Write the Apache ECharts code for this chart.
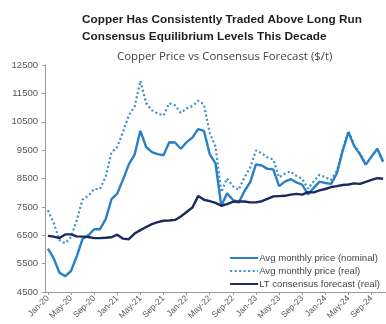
<!DOCTYPE html>
<html>
<head>
<meta charset="utf-8">
<script src="https://cdn.jsdelivr.net/npm/echarts@6/dist/echarts.min.js"></script>
<style>
  html, body { margin: 0; padding: 0; background: #fff; }
  #chart { width: 386px; height: 324px; }
</style>
</head>
<body>
<div id="chart"></div>
<script>
// Monthly categories, Jan-20 .. Nov-24
const monthNames = ['Jan', 'Feb', 'Mar', 'Apr', 'May', 'Jun', 'Jul', 'Aug', 'Sep', 'Oct', 'Nov', 'Dec'];
const years = ['20', '21', '22', '23', '24'];
const categories = [];
years.forEach(function (y) {
  monthNames.forEach(function (m) { categories.push(m + '-' + y); });
});
categories.length = 59;

// Average monthly copper price, nominal ($/t)
const nominalPrice = [
  6030, 5690, 5180, 5060, 5240, 5760, 6370, 6500, 6710, 6710, 7070, 7770,
  7970, 8460, 9000, 9340, 10180, 9610, 9430, 9360, 9320, 9780, 9770, 9550,
  9780, 9940, 10240, 10180, 9360, 9030, 7530, 7980, 7750, 7650, 8050, 8370,
  9000, 8960, 8840, 8820, 8230, 8390, 8480, 8360, 8280, 7940, 8170, 8390,
  8340, 8310, 8680, 9470, 10130, 9640, 9350, 8990, 9270, 9550, 9090
];

// Average monthly copper price, real ($/t)
const realPrice = [
  7380, 6940, 6330, 6220, 6440, 7040, 7760, 7890, 8130, 8130, 8570, 9410,
  9610, 10150, 10730, 11030, 11940, 11160, 10900, 10790, 10720, 11150, 11080, 10810,
  10970, 11050, 11240, 11110, 10110, 9620, 8020, 8500, 8230, 8100, 8530, 8890,
  9490, 9390, 9240, 9170, 8540, 8670, 8750, 8590, 8490, 8140, 8400, 8630,
  8540, 8450, 8770, 9520, 10180, 9680, 9380, 9010, 9280, 9550, 9090
];

// Long-term consensus forecast, real ($/t)
const ltConsensus = [
  6480, 6450, 6400, 6530, 6530, 6460, 6450, 6440, 6400, 6400, 6410, 6430,
  6520, 6380, 6360, 6560, 6680, 6790, 6890, 6960, 7010, 7020, 7040, 7160,
  7320, 7480, 7880, 7750, 7700, 7640, 7540, 7600, 7680, 7690, 7690, 7660,
  7660, 7700, 7780, 7870, 7880, 7890, 7930, 7960, 7930, 8020, 8010, 8080,
  8130, 8200, 8230, 8270, 8290, 8330, 8310, 8380, 8450, 8510, 8490
];

const seriesNames = [
  'Avg monthly price (nominal)',
  'Avg monthly price (real)',
  'LT consensus forecast (real)'
];

const chart = echarts.init(document.getElementById('chart'), null, { renderer: 'canvas' });

const axisGrey = '#9a9a9a';
const labelGrey = '#555';

chart.setOption({
  animation: false,
  backgroundColor: '#ffffff',
  title: [
    {
      text: 'Copper Has Consistently Traded Above Long Run\nConsensus Equilibrium Levels This Decade',
      left: 77,
      top: 6,
      textStyle: {
        fontFamily: 'Liberation Sans, sans-serif',
        fontSize: 11.8,
        fontWeight: 'bold',
        color: '#1e1e1e',
        lineHeight: 17
      }
    },
    {
      text: 'Copper Price vs Consensus Forecast ($/t)',
      left: 112,
      top: 46,
      textStyle: {
        fontFamily: 'Open Sans, sans-serif',
        fontSize: 11.4,
        fontWeight: 'normal',
        color: '#444'
      }
    }
  ],
  legend: {
    orient: 'vertical',
    right: 1,
    top: 248,
    itemWidth: 28,
    itemHeight: 8,
    itemGap: 3,
    itemStyle: { opacity: 0, borderWidth: 0 },
    textStyle: {
      fontFamily: 'Liberation Sans Narrow, sans-serif',
      fontSize: 9.6,
      color: '#444',
      padding: [0, 0, 0, -4]
    },
    data: seriesNames
  },
  grid: {
    left: 45,
    right: -3,
    top: 65,
    bottom: 32,
    containLabel: false
  },
  xAxis: {
    type: 'category',
    data: categories,
    boundaryGap: true,
    axisLine: { show: true, lineStyle: { color: axisGrey, width: 1 } },
    axisTick: { show: true, interval: 3, alignWithLabel: true, length: 3, lineStyle: { color: axisGrey } },
    axisLabel: {
      interval: 3,
      rotate: 45,
      margin: 5,
      fontFamily: 'Liberation Sans Narrow, sans-serif',
      fontSize: 8.5,
      color: labelGrey
    },
    splitLine: { show: false }
  },
  yAxis: {
    type: 'value',
    min: 4500,
    max: 12500,
    interval: 1000,
    axisLine: { show: true, lineStyle: { color: axisGrey, width: 1 } },
    axisTick: { show: true, length: 3, lineStyle: { color: axisGrey } },
    axisLabel: {
      margin: 7,
      formatter: function (v) { return String(v); },
      fontFamily: 'Liberation Sans Narrow, sans-serif',
      fontSize: 9.5,
      color: labelGrey
    },
    splitLine: { show: false }
  },
  series: [
    {
      name: seriesNames[0],
      type: 'line',
      data: nominalPrice,
      symbol: 'none',
      z: 3,
      lineStyle: { color: '#2b7fc5', width: 2.4 },
      itemStyle: { color: '#2b7fc5' }
    },
    {
      name: seriesNames[1],
      type: 'line',
      data: realPrice,
      symbol: 'none',
      z: 2,
      lineStyle: { color: '#3b8ed0', width: 2.2, type: [2, 2.5] },
      itemStyle: { color: '#3b8ed0' }
    },
    {
      name: seriesNames[2],
      type: 'line',
      data: ltConsensus,
      symbol: 'none',
      z: 4,
      lineStyle: { color: '#1b295c', width: 2.4 },
      itemStyle: { color: '#1b295c' }
    }
  ]
});
</script>
</body>
</html>
